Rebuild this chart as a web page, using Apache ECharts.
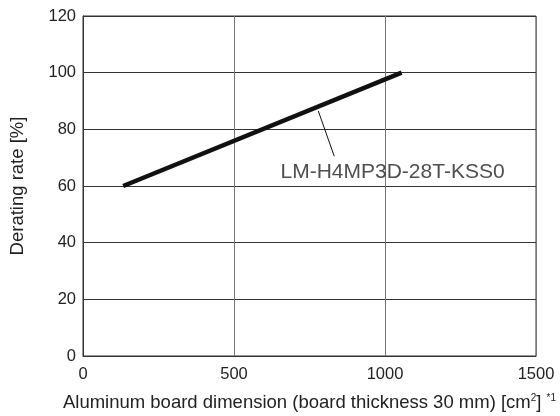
<!DOCTYPE html>
<html>
<head>
<meta charset="utf-8">
<script src="https://cdn.jsdelivr.net/npm/echarts@6/dist/echarts.min.js"></script>
<style>
  html, body { margin: 0; padding: 0; background: #fff; }
  #main { width: 560px; height: 416px; }
</style>
</head>
<body>
<div id="main"></div>
<script>
/*坐标轴刻度*/
var xTicks = [0, 500, 1000, 1500];
var yTicks = [0, 20, 40, 60, 80, 100, 120];
/*曲线数据*/
var seriesName = 'LM-H4MP3D-28T-KSS0';
var deratingLine = [[133, 60], [1055, 100]];
/*引线与标注*/
var leaderLine = [[779, 86.5], [832, 70.5]];
var labelPoint = [[1025, 65]];

var font = 'Liberation Sans, Arial, sans-serif';
var chart = echarts.init(document.getElementById('main'));

var option = {
  animation: false,
  grid: {
    left: 83, right: 24, top: 16, bottom: 60,
    outerBoundsMode: 'none',
    containLabel: false,
    show: true, borderColor: '#333', borderWidth: 1
  },
  xAxis: {
    type: 'value',
    min: xTicks[0], max: xTicks[xTicks.length - 1], interval: 500,
    name: 'Aluminum board dimension (board thickness 30 mm) [cm{sup|2}] {sup|*1}',
    nameLocation: 'middle', nameGap: 37,
    nameTextStyle: {
      color: '#222', fontSize: 18.5, fontFamily: font,
      rich: { sup: { fontSize: 10, verticalAlign: 'top', padding: [0, 0, 9, 0], fontFamily: font, color: '#222' } }
    },
    axisLine: { lineStyle: { color: '#333', width: 1 } },
    axisTick: { show: false },
    axisLabel: {
      color: '#222', fontSize: 16.5, fontFamily: font, margin: 10,
      formatter: function (v) { return String(v); }
    },
    splitLine: { lineStyle: { color: '#777', width: 1 } }
  },
  yAxis: {
    type: 'value',
    min: yTicks[0], max: yTicks[yTicks.length - 1], interval: 20,
    name: 'Derating rate [%]',
    nameLocation: 'middle', nameGap: 56,
    nameTextStyle: { color: '#222', fontSize: 18.5, fontFamily: font },
    axisLine: { lineStyle: { color: '#333', width: 1 } },
    axisTick: { show: false },
    axisLabel: { color: '#222', fontSize: 16.5, fontFamily: font, margin: 7 },
    splitLine: { lineStyle: { color: '#333', width: 1 } }
  },
  series: [
    {
      name: seriesName,
      type: 'line',
      data: deratingLine,
      symbol: 'none',
      lineStyle: { color: '#111', width: 4.5 }
    },
    {
      type: 'line',
      data: leaderLine,
      symbol: 'none',
      lineStyle: { color: '#111', width: 1 }
    },
    {
      type: 'scatter',
      data: labelPoint,
      symbolSize: 0,
      label: {
        show: true, position: 'inside',
        formatter: seriesName,
        color: '#222', fontSize: 21, fontFamily: font
      }
    }
  ]
};
chart.setOption(option);
</script>
</body>
</html>
